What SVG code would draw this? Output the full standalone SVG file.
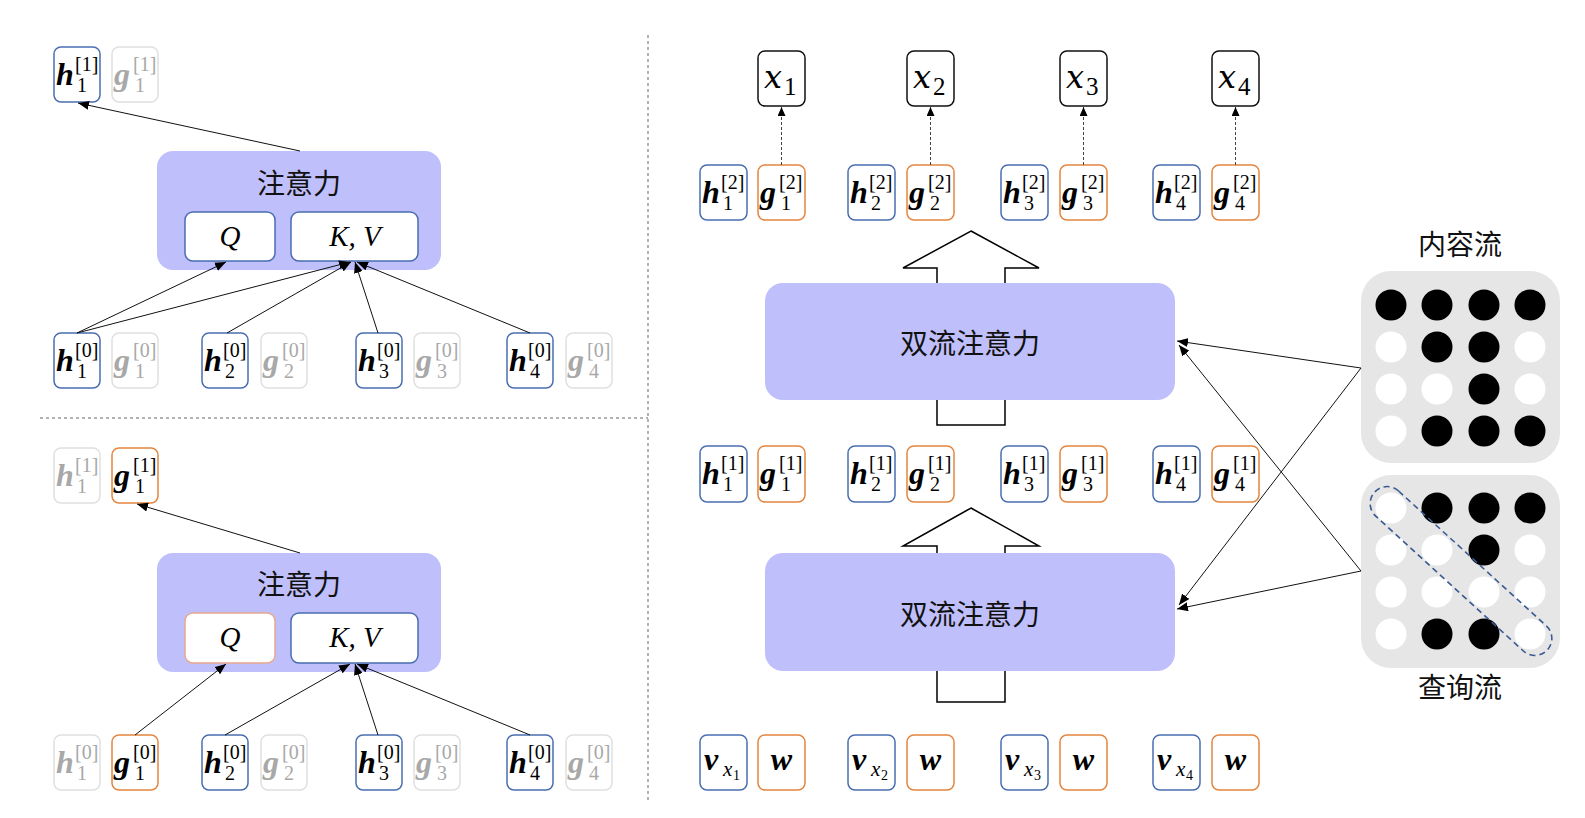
<svg xmlns="http://www.w3.org/2000/svg" width="1585" height="818" viewBox="0 0 1585 818">
<defs>
<style>
.bb{fill:#fff;stroke:#4a6db0;stroke-width:1.5}
.ob{fill:#fff;stroke:#e5853f;stroke-width:1.5}
.gb{fill:#fff;stroke:#e0e0e0;stroke-width:1.5}
.kb{fill:#fff;stroke:#111;stroke-width:1.5}
.qb{fill:#fff;stroke:#e8a88c;stroke-width:1.5}
.att{fill:#bfbffb}
.m{font-family:"Liberation Serif","DejaVu Serif",serif;font-style:italic;font-weight:bold;font-size:32px;fill:#000}
.s{font-family:"Liberation Serif","DejaVu Serif",serif;font-size:20px;fill:#000}
.dim .m,.dim .s{fill:#a8a8a8}
.cjk{font-family:"Noto Sans CJK SC","Noto Sans CJK JP",sans-serif;font-size:28px;fill:#111}
.it{font-family:"Liberation Serif","DejaVu Serif",serif;font-style:italic;font-size:29px;fill:#000}
.xi{font-family:"DejaVu Serif","Liberation Serif",serif;font-style:italic;font-size:32px;fill:#000}
.xs{font-family:"Liberation Serif","DejaVu Serif",serif;font-size:25px;fill:#000}
.vs{font-family:"Liberation Serif","DejaVu Serif",serif;font-style:italic;font-size:21px;fill:#000}
.vss{font-family:"Liberation Serif","DejaVu Serif",serif;font-size:14px;fill:#000}
.ln{stroke:#111;stroke-width:1;fill:none;marker-end:url(#ah)}
.dl{stroke:#444;stroke-width:1;stroke-dasharray:3,2;fill:none;marker-end:url(#ah2)}
.sep{stroke:#666;stroke-width:1;stroke-dasharray:3,3;fill:none}
.big{fill:#fff;stroke:#000;stroke-width:1.5}
.pan{fill:#e6e6e6}
.bk{fill:#000}
.wt{fill:#fff}
</style>
<marker id="ah" markerUnits="userSpaceOnUse" markerWidth="11" markerHeight="9" refX="11" refY="4.5" orient="auto"><path d="M0,0 L11,4.5 L0,9 z" fill="#000"/></marker>
<marker id="ah2" markerUnits="userSpaceOnUse" markerWidth="9" markerHeight="8" refX="9" refY="4" orient="auto"><path d="M0,0 L9,4 L0,8 z" fill="#000"/></marker>
</defs>
<rect width="1585" height="818" fill="#fff"/>

<g id="separators">
<line class="sep" x1="648" y1="35" x2="648" y2="800"/>
<line class="sep" x1="40" y1="418" x2="648" y2="418"/>
</g>

<g id="hollow-arrows">
<polygon class="big" points="971,231 1039,268 1005,268 1005,425 937,425 937,268 903,268"/>
<polygon class="big" points="971,508 1039,546 1005,546 1005,702 937,702 937,546 903,546"/>
</g>

<!-- top-left panel -->
<g id="tl-h1-1" transform="translate(54,47)"><rect class="bb" width="46" height="55" rx="7"/><text class="m" x="2" y="38">h</text><text class="s" x="21" y="24">[1]</text><text class="s" x="23" y="45">1</text></g>
<g id="tl-g1-1" class="dim" transform="translate(112,47)"><rect class="gb" width="46" height="55" rx="7"/><text class="m" x="2" y="38">g</text><text class="s" x="21" y="24">[1]</text><text class="s" x="23" y="45">1</text></g>
<g id="tl-attn">
<rect class="att" x="157" y="151" width="284" height="119" rx="16"/>
<text class="cjk" x="299" y="194" text-anchor="middle">注意力</text>
<rect class="bb" x="185" y="212" width="90" height="49" rx="8"/>
<text class="it" x="230" y="246" text-anchor="middle">Q</text>
<rect class="bb" x="291" y="212" width="127" height="49" rx="8"/>
<text class="it" x="355" y="246" text-anchor="middle">K, V</text>
</g>
<g id="tl-h1-0" transform="translate(54,333)"><rect class="bb" width="46" height="55" rx="7"/><text class="m" x="2" y="38">h</text><text class="s" x="21" y="24">[0]</text><text class="s" x="23" y="45">1</text></g>
<g id="tl-g1-0" class="dim" transform="translate(112,333)"><rect class="gb" width="46" height="55" rx="7"/><text class="m" x="2" y="38">g</text><text class="s" x="21" y="24">[0]</text><text class="s" x="23" y="45">1</text></g>
<g id="tl-h2-0" transform="translate(202,333)"><rect class="bb" width="46" height="55" rx="7"/><text class="m" x="2" y="38">h</text><text class="s" x="21" y="24">[0]</text><text class="s" x="23" y="45">2</text></g>
<g id="tl-g2-0" class="dim" transform="translate(261,333)"><rect class="gb" width="46" height="55" rx="7"/><text class="m" x="2" y="38">g</text><text class="s" x="21" y="24">[0]</text><text class="s" x="23" y="45">2</text></g>
<g id="tl-h3-0" transform="translate(356,333)"><rect class="bb" width="46" height="55" rx="7"/><text class="m" x="2" y="38">h</text><text class="s" x="21" y="24">[0]</text><text class="s" x="23" y="45">3</text></g>
<g id="tl-g3-0" class="dim" transform="translate(414,333)"><rect class="gb" width="46" height="55" rx="7"/><text class="m" x="2" y="38">g</text><text class="s" x="21" y="24">[0]</text><text class="s" x="23" y="45">3</text></g>
<g id="tl-h4-0" transform="translate(507,333)"><rect class="bb" width="46" height="55" rx="7"/><text class="m" x="2" y="38">h</text><text class="s" x="21" y="24">[0]</text><text class="s" x="23" y="45">4</text></g>
<g id="tl-g4-0" class="dim" transform="translate(566,333)"><rect class="gb" width="46" height="55" rx="7"/><text class="m" x="2" y="38">g</text><text class="s" x="21" y="24">[0]</text><text class="s" x="23" y="45">4</text></g>

<!-- bottom-left panel -->
<g id="bl-h1-1" class="dim" transform="translate(54,448)"><rect class="gb" width="46" height="55" rx="7"/><text class="m" x="2" y="38">h</text><text class="s" x="21" y="24">[1]</text><text class="s" x="23" y="45">1</text></g>
<g id="bl-g1-1" transform="translate(112,448)"><rect class="ob" width="46" height="55" rx="7"/><text class="m" x="2" y="38">g</text><text class="s" x="21" y="24">[1]</text><text class="s" x="23" y="45">1</text></g>
<g id="bl-attn">
<rect class="att" x="157" y="553" width="284" height="119" rx="16"/>
<text class="cjk" x="299" y="595" text-anchor="middle">注意力</text>
<rect class="qb" x="185" y="613" width="90" height="50" rx="8"/>
<text class="it" x="230" y="647" text-anchor="middle">Q</text>
<rect class="bb" x="291" y="613" width="127" height="50" rx="8"/>
<text class="it" x="355" y="647" text-anchor="middle">K, V</text>
</g>
<g id="bl-h1-0" class="dim" transform="translate(54,735)"><rect class="gb" width="46" height="55" rx="7"/><text class="m" x="2" y="38">h</text><text class="s" x="21" y="24">[0]</text><text class="s" x="23" y="45">1</text></g>
<g id="bl-g1-0" transform="translate(112,735)"><rect class="ob" width="46" height="55" rx="7"/><text class="m" x="2" y="38">g</text><text class="s" x="21" y="24">[0]</text><text class="s" x="23" y="45">1</text></g>
<g id="bl-h2-0" transform="translate(202,735)"><rect class="bb" width="46" height="55" rx="7"/><text class="m" x="2" y="38">h</text><text class="s" x="21" y="24">[0]</text><text class="s" x="23" y="45">2</text></g>
<g id="bl-g2-0" class="dim" transform="translate(261,735)"><rect class="gb" width="46" height="55" rx="7"/><text class="m" x="2" y="38">g</text><text class="s" x="21" y="24">[0]</text><text class="s" x="23" y="45">2</text></g>
<g id="bl-h3-0" transform="translate(356,735)"><rect class="bb" width="46" height="55" rx="7"/><text class="m" x="2" y="38">h</text><text class="s" x="21" y="24">[0]</text><text class="s" x="23" y="45">3</text></g>
<g id="bl-g3-0" class="dim" transform="translate(414,735)"><rect class="gb" width="46" height="55" rx="7"/><text class="m" x="2" y="38">g</text><text class="s" x="21" y="24">[0]</text><text class="s" x="23" y="45">3</text></g>
<g id="bl-h4-0" transform="translate(507,735)"><rect class="bb" width="46" height="55" rx="7"/><text class="m" x="2" y="38">h</text><text class="s" x="21" y="24">[0]</text><text class="s" x="23" y="45">4</text></g>
<g id="bl-g4-0" class="dim" transform="translate(566,735)"><rect class="gb" width="46" height="55" rx="7"/><text class="m" x="2" y="38">g</text><text class="s" x="21" y="24">[0]</text><text class="s" x="23" y="45">4</text></g>

<!-- right panel: outputs -->
<g id="x1" transform="translate(758,51)"><rect class="kb" width="47" height="55" rx="7"/><text class="xi" x="6" y="37">x</text><text class="xs" x="26" y="44">1</text></g>
<g id="x2" transform="translate(907,51)"><rect class="kb" width="47" height="55" rx="7"/><text class="xi" x="6" y="37">x</text><text class="xs" x="26" y="44">2</text></g>
<g id="x3" transform="translate(1060,51)"><rect class="kb" width="47" height="55" rx="7"/><text class="xi" x="6" y="37">x</text><text class="xs" x="26" y="44">3</text></g>
<g id="x4" transform="translate(1212,51)"><rect class="kb" width="47" height="55" rx="7"/><text class="xi" x="6" y="37">x</text><text class="xs" x="26" y="44">4</text></g>

<!-- layer 2 states -->
<g id="h1-2" transform="translate(700,165)"><rect class="bb" width="47" height="55" rx="7"/><text class="m" x="2" y="38">h</text><text class="s" x="21" y="24">[2]</text><text class="s" x="23" y="45">1</text></g>
<g id="g1-2" transform="translate(758,165)"><rect class="ob" width="47" height="55" rx="7"/><text class="m" x="2" y="38">g</text><text class="s" x="21" y="24">[2]</text><text class="s" x="23" y="45">1</text></g>
<g id="h2-2" transform="translate(848,165)"><rect class="bb" width="47" height="55" rx="7"/><text class="m" x="2" y="38">h</text><text class="s" x="21" y="24">[2]</text><text class="s" x="23" y="45">2</text></g>
<g id="g2-2" transform="translate(907,165)"><rect class="ob" width="47" height="55" rx="7"/><text class="m" x="2" y="38">g</text><text class="s" x="21" y="24">[2]</text><text class="s" x="23" y="45">2</text></g>
<g id="h3-2" transform="translate(1001,165)"><rect class="bb" width="47" height="55" rx="7"/><text class="m" x="2" y="38">h</text><text class="s" x="21" y="24">[2]</text><text class="s" x="23" y="45">3</text></g>
<g id="g3-2" transform="translate(1060,165)"><rect class="ob" width="47" height="55" rx="7"/><text class="m" x="2" y="38">g</text><text class="s" x="21" y="24">[2]</text><text class="s" x="23" y="45">3</text></g>
<g id="h4-2" transform="translate(1153,165)"><rect class="bb" width="47" height="55" rx="7"/><text class="m" x="2" y="38">h</text><text class="s" x="21" y="24">[2]</text><text class="s" x="23" y="45">4</text></g>
<g id="g4-2" transform="translate(1212,165)"><rect class="ob" width="47" height="55" rx="7"/><text class="m" x="2" y="38">g</text><text class="s" x="21" y="24">[2]</text><text class="s" x="23" y="45">4</text></g>

<g id="tsa-2"><rect class="att" x="765" y="283" width="410" height="117" rx="18"/><text class="cjk" x="970" y="354" text-anchor="middle">双流注意力</text></g>

<!-- layer 1 states -->
<g id="h1-1" transform="translate(700,446)"><rect class="bb" width="47" height="56" rx="7"/><text class="m" x="2" y="38">h</text><text class="s" x="21" y="24">[1]</text><text class="s" x="23" y="45">1</text></g>
<g id="g1-1" transform="translate(758,446)"><rect class="ob" width="47" height="56" rx="7"/><text class="m" x="2" y="38">g</text><text class="s" x="21" y="24">[1]</text><text class="s" x="23" y="45">1</text></g>
<g id="h2-1" transform="translate(848,446)"><rect class="bb" width="47" height="56" rx="7"/><text class="m" x="2" y="38">h</text><text class="s" x="21" y="24">[1]</text><text class="s" x="23" y="45">2</text></g>
<g id="g2-1" transform="translate(907,446)"><rect class="ob" width="47" height="56" rx="7"/><text class="m" x="2" y="38">g</text><text class="s" x="21" y="24">[1]</text><text class="s" x="23" y="45">2</text></g>
<g id="h3-1" transform="translate(1001,446)"><rect class="bb" width="47" height="56" rx="7"/><text class="m" x="2" y="38">h</text><text class="s" x="21" y="24">[1]</text><text class="s" x="23" y="45">3</text></g>
<g id="g3-1" transform="translate(1060,446)"><rect class="ob" width="47" height="56" rx="7"/><text class="m" x="2" y="38">g</text><text class="s" x="21" y="24">[1]</text><text class="s" x="23" y="45">3</text></g>
<g id="h4-1" transform="translate(1153,446)"><rect class="bb" width="47" height="56" rx="7"/><text class="m" x="2" y="38">h</text><text class="s" x="21" y="24">[1]</text><text class="s" x="23" y="45">4</text></g>
<g id="g4-1" transform="translate(1212,446)"><rect class="ob" width="47" height="56" rx="7"/><text class="m" x="2" y="38">g</text><text class="s" x="21" y="24">[1]</text><text class="s" x="23" y="45">4</text></g>

<g id="tsa-1"><rect class="att" x="765" y="553" width="410" height="118" rx="18"/><text class="cjk" x="970" y="625" text-anchor="middle">双流注意力</text></g>

<!-- inputs -->
<g id="v1" transform="translate(700,735)"><rect class="bb" width="47" height="55" rx="7"/><text class="m" x="4" y="35">v</text><text class="vs" x="23" y="41">x</text><text class="vss" x="33" y="45">1</text></g>
<g id="w1" transform="translate(758,735)"><rect class="ob" width="47" height="55" rx="7"/><text class="m" x="23.5" y="35" text-anchor="middle">w</text></g>
<g id="v2" transform="translate(848,735)"><rect class="bb" width="47" height="55" rx="7"/><text class="m" x="4" y="35">v</text><text class="vs" x="23" y="41">x</text><text class="vss" x="33" y="45">2</text></g>
<g id="w2" transform="translate(907,735)"><rect class="ob" width="47" height="55" rx="7"/><text class="m" x="23.5" y="35" text-anchor="middle">w</text></g>
<g id="v3" transform="translate(1001,735)"><rect class="bb" width="47" height="55" rx="7"/><text class="m" x="4" y="35">v</text><text class="vs" x="23" y="41">x</text><text class="vss" x="33" y="45">3</text></g>
<g id="w3" transform="translate(1060,735)"><rect class="ob" width="47" height="55" rx="7"/><text class="m" x="23.5" y="35" text-anchor="middle">w</text></g>
<g id="v4" transform="translate(1153,735)"><rect class="bb" width="47" height="55" rx="7"/><text class="m" x="4" y="35">v</text><text class="vs" x="23" y="41">x</text><text class="vss" x="33" y="45">4</text></g>
<g id="w4" transform="translate(1212,735)"><rect class="ob" width="47" height="55" rx="7"/><text class="m" x="23.5" y="35" text-anchor="middle">w</text></g>

<!-- masks -->
<g id="content-mask">
<text class="cjk" x="1460" y="255" text-anchor="middle">内容流</text>
<rect class="pan" x="1361" y="271" width="199" height="192" rx="30"/>
<circle class="bk" cx="1391" cy="305" r="15.5"/><circle class="bk" cx="1437" cy="305" r="15.5"/><circle class="bk" cx="1484" cy="305" r="15.5"/><circle class="bk" cx="1530" cy="305" r="15.5"/>
<circle class="wt" cx="1391" cy="347" r="15.5"/><circle class="bk" cx="1437" cy="347" r="15.5"/><circle class="bk" cx="1484" cy="347" r="15.5"/><circle class="wt" cx="1530" cy="347" r="15.5"/>
<circle class="wt" cx="1391" cy="389" r="15.5"/><circle class="wt" cx="1437" cy="389" r="15.5"/><circle class="bk" cx="1484" cy="389" r="15.5"/><circle class="wt" cx="1530" cy="389" r="15.5"/>
<circle class="wt" cx="1391" cy="431" r="15.5"/><circle class="bk" cx="1437" cy="431" r="15.5"/><circle class="bk" cx="1484" cy="431" r="15.5"/><circle class="bk" cx="1530" cy="431" r="15.5"/>
</g>
<g id="query-mask">
<rect class="pan" x="1361" y="475" width="199" height="193" rx="30"/>
<circle class="wt" cx="1391" cy="508" r="15.5"/><circle class="bk" cx="1437" cy="508" r="15.5"/><circle class="bk" cx="1484" cy="508" r="15.5"/><circle class="bk" cx="1530" cy="508" r="15.5"/>
<circle class="wt" cx="1391" cy="550" r="15.5"/><circle class="wt" cx="1437" cy="550" r="15.5"/><circle class="bk" cx="1484" cy="550" r="15.5"/><circle class="wt" cx="1530" cy="550" r="15.5"/>
<circle class="wt" cx="1391" cy="592" r="15.5"/><circle class="wt" cx="1437" cy="592" r="15.5"/><circle class="wt" cx="1484" cy="592" r="15.5"/><circle class="wt" cx="1530" cy="592" r="15.5"/>
<circle class="wt" cx="1391" cy="634" r="15.5"/><circle class="bk" cx="1437" cy="634" r="15.5"/><circle class="bk" cx="1484" cy="634" r="15.5"/><circle class="wt" cx="1530" cy="634" r="15.5"/>
<rect x="-117" y="-17" width="234" height="34" rx="17" fill="none" stroke="#3a5a92" stroke-width="1.6" stroke-dasharray="6,4" transform="translate(1461,571) rotate(42.4)"/>
<text class="cjk" x="1460" y="698" text-anchor="middle">查询流</text>
</g>

<g id="connectors">
<line class="ln" x1="300" y1="151" x2="78" y2="103"/>
<line class="ln" x1="77" y1="333" x2="226" y2="262"/>
<line class="ln" x1="77" y1="333" x2="350" y2="262"/>
<line class="ln" x1="227" y1="333" x2="351" y2="262"/>
<line class="ln" x1="378" y1="333" x2="355" y2="262"/>
<line class="ln" x1="530" y1="333" x2="357" y2="262"/>
<line class="ln" x1="300" y1="553" x2="137" y2="504"/>
<line class="ln" x1="135" y1="735" x2="226" y2="664"/>
<line class="ln" x1="225" y1="735" x2="350" y2="664"/>
<line class="ln" x1="378" y1="735" x2="355" y2="664"/>
<line class="ln" x1="530" y1="735" x2="357" y2="664"/>
<line class="dl" x1="781.5" y1="165" x2="781.5" y2="107"/>
<line class="dl" x1="930.5" y1="165" x2="930.5" y2="107"/>
<line class="dl" x1="1083.5" y1="165" x2="1083.5" y2="107"/>
<line class="dl" x1="1235.5" y1="165" x2="1235.5" y2="107"/>
<line class="ln" x1="1361" y1="368" x2="1177" y2="341"/>
<line class="ln" x1="1361" y1="368" x2="1179" y2="605"/>
<line class="ln" x1="1361" y1="571" x2="1179" y2="345"/>
<line class="ln" x1="1361" y1="571" x2="1177" y2="609"/>
</g>
</svg>
